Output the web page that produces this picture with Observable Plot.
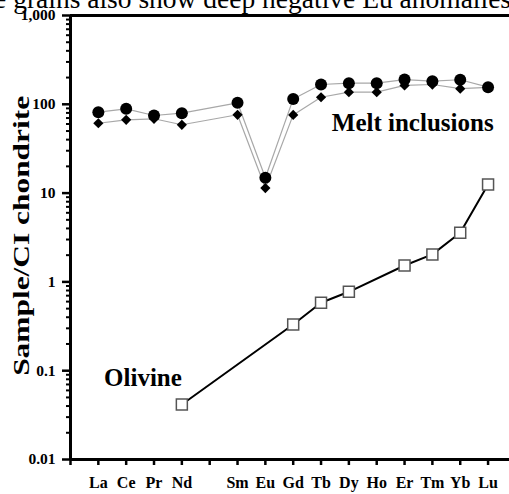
<!DOCTYPE html>
<html><head><meta charset="utf-8">
<script src="https://cdn.jsdelivr.net/npm/d3@7"></script>
<script src="https://cdn.jsdelivr.net/npm/@observablehq/plot@0.6"></script>
<style>body{margin:0;background:#fff}</style>
</head><body><div id="chart"></div>
<script>
const pageText = "The grains also show deep negative Eu anomalies";
const tickLabels = ["", "La","Ce","Pr","Nd","","Sm","Eu","Gd","Tb","Dy","Ho","Er","Tm","Yb","Lu"];
const elements = ["La","Ce","Pr","Nd","Pm","Sm","Eu","Gd","Tb","Dy","Ho","Er","Tm","Yb","Lu"];
const meltCircle  = [81.5, 89, 74.8, 79.4, null, 104, 14.9, 115, 167, 173, 173, 190, 182, 189, 156];
const meltDiamond = [61.2, 66.9, 68.7, 58.8, null, 76.2, 11.4, 76, 120, 137, 137, 163, 167, 150, 155];
const olivine     = [null, null, null, 0.0416, null, null, null, 0.331, 0.582, 0.774, null, 1.53, 2.04, 3.57, 12.5];
const yTicks = [0.01, 0.1, 1, 10, 100, 1000];
const yTitle = "Sample/CI chondrite";
const labelMelt = "Melt inclusions";
const labelOl = "Olivine";

const rows = arr => elements.map((el, i) => ({el, x: i + 1, v: arr[i]})).filter(d => d.v != null);
const circ = rows(meltCircle), diam = rows(meltDiamond), oliv = rows(olivine);
const minor = d3.range(-2, 3).flatMap(e => d3.range(2, 10).map(m => m * Math.pow(10, e)));
const font = "'Liberation Serif', 'Times New Roman', serif";

const chart = Plot.plot({
  width: 509, height: 494,
  marginTop: 15, marginLeft: 70, marginRight: 0, marginBottom: 35,
  style: {fontFamily: font, fontWeight: "bold", background: "white", overflow: "visible", color: "black"},
  x: {domain: [0, 15.77]},
  y: {type: "log", domain: [0.01, 1000]},
  marks: [
    Plot.axisY({ticks: minor, tickSize: 4, strokeWidth: 2, tickFormat: () => "", label: null}),
    Plot.axisY({ticks: yTicks, tickSize: 8, tickPadding: 7, strokeWidth: 2.5, fontSize: 15.5, label: null,
      tickFormat: d => d >= 1000 ? d3.format(",")(d) : String(d)}),
    Plot.axisX({ticks: d3.range(0, 16), tickSize: 6, tickPadding: 11, strokeWidth: 2.5, fontSize: 16, label: null,
      tickFormat: i => tickLabels[i]}),
    Plot.ruleX([0], {strokeWidth: 3}),
    Plot.ruleY([0.01], {strokeWidth: 3}),
    Plot.ruleY([1000], {strokeWidth: 3}),
    Plot.line(diam, {x: "x", y: "v", stroke: "#a8a8a8", strokeWidth: 1.2}),
    Plot.line(circ, {x: "x", y: "v", stroke: "#a8a8a8", strokeWidth: 1.2}),
    Plot.dot(diam, {x: "x", y: "v", symbol: "diamond2", r: 4.6, fill: "black"}),
    Plot.dot(circ, {x: "x", y: "v", r: 6, fill: "black"}),
    Plot.line(oliv, {x: "x", y: "v", stroke: "black", strokeWidth: 2}),
    Plot.dot(oliv, {x: "x", y: "v", symbol: "square", r: 6.2, fill: "white", stroke: "#555", strokeWidth: 1.5}),
    Plot.text([labelMelt], {x: 15.2, y: 49.4, text: d => d, textAnchor: "end", lineAnchor: "bottom", fontSize: 25}),
    Plot.text([labelOl], {x: 4.0, y: 0.068, text: d => d, textAnchor: "end", lineAnchor: "bottom", fontSize: 25}),
    Plot.text([yTitle], {x: -1.76, y: 3.3, rotate: -90, text: d => d, fontSize: 24}),
    Plot.text([pageText], {frameAnchor: "top-left", dx: -107, dy: -8, text: d => d, textAnchor: "start", lineAnchor: "bottom", fontSize: 27.5, fontWeight: "normal"})
  ]
});
chart.querySelectorAll("text").forEach(t => {
  if (t.textContent === yTitle) { t.setAttribute("textLength", 280); t.setAttribute("lengthAdjust", "spacingAndGlyphs"); }
});
document.getElementById("chart").appendChild(chart);
</script>
</body></html>
